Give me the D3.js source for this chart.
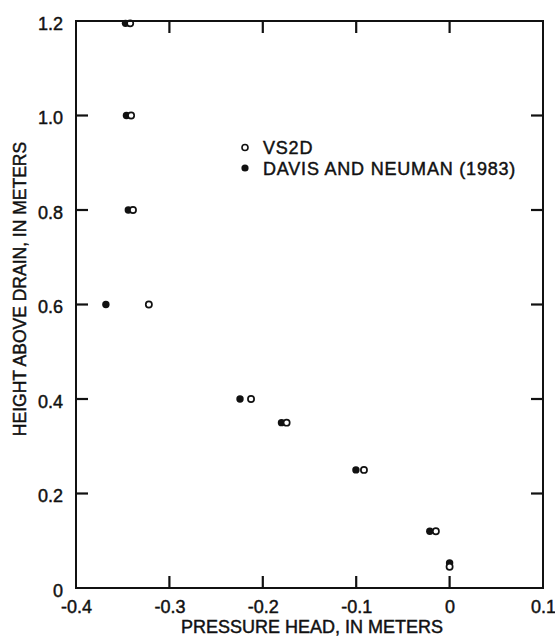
<!DOCTYPE html>
<html>
<head>
<meta charset="utf-8">
<script src="https://cdn.jsdelivr.net/npm/d3@7"></script>
<style>
  html, body { margin: 0; padding: 0; background: #fff; }
  svg text { font-family: "Liberation Sans", Arial, Helvetica, sans-serif; fill: #111; stroke: #111; stroke-width: 0.45px; }
</style>
</head>
<body>
<svg id="chart" width="555" height="639"></svg>
<script>
// Pressure head (m) simulated by VS2D, with the matching height above drain (m)
const vs2dHead = [-0.342, -0.341, -0.339, -0.322, -0.2126, -0.1745, -0.0917, -0.0147, 0.0];
const vs2dHeight = [1.195, 1.0, 0.8, 0.6, 0.4, 0.35, 0.25, 0.12, 0.045];
// Pressure head (m) from Davis and Neuman (1983), with the matching height above drain (m)
const davisHead = [-0.347, -0.346, -0.344, -0.368, -0.2244, -0.180, -0.1003, -0.0212, 0.0];
const davisHeight = [1.195, 1.0, 0.8, 0.6, 0.4, 0.35, 0.25, 0.12, 0.053];

const xTicks = [-0.4, -0.3, -0.2, -0.1, 0, 0.1];
const yTicks = [0, 0.2, 0.4, 0.6, 0.8, 1.0, 1.2];
const xTickLabels = ["-0.4", "-0.3", "-0.2", "-0.1", "0", "0.1"];
const yTickLabels = ["0", "0.2", "0.4", "0.6", "0.8", "1.0", "1.2"];

const legendLabels = ["VS2D", "DAVIS AND NEUMAN (1983)"];
const xTitle = "PRESSURE HEAD, IN METERS";
const yTitle = "HEIGHT ABOVE DRAIN, IN METERS";

const svg = d3.select("#chart");
const plotLeft = 76, plotRight = 543, plotTop = 21, plotBottom = 588;

const x = d3.scaleLinear().domain([-0.4, 0.1]).range([plotLeft, plotRight]);
const y = d3.scaleLinear().domain([0, 1.2]).range([plotBottom, plotTop]);

const fontSize = 18;
const tickLen = 12;

// Data points
svg.append("g").selectAll("circle")
  .data(davisHead.map((d, i) => [d, davisHeight[i]]))
  .join("circle")
  .attr("cx", d => x(d[0])).attr("cy", d => y(d[1]))
  .attr("r", 3.7).attr("fill", "#111");

svg.append("g").selectAll("circle")
  .data(vs2dHead.map((d, i) => [d, vs2dHeight[i]]))
  .join("circle")
  .attr("cx", d => x(d[0])).attr("cy", d => y(d[1]))
  .attr("r", 3.1).attr("fill", "#fff").attr("stroke", "#111").attr("stroke-width", 1.7);

// Tick labels through d3 axes
const bottomAxis = d3.axisBottom(x).tickValues(xTicks).tickSize(0)
  .tickFormat((d, i) => xTickLabels[i]).tickPadding(12);
const leftAxis = d3.axisLeft(y).tickValues(yTicks).tickSize(0)
  .tickFormat((d, i) => yTickLabels[i]).tickPadding(13);

function styleAxis(g) {
  g.select(".domain").remove();
  g.selectAll(".tick line").remove();
  g.selectAll(".tick text").attr("font-size", fontSize)
    .attr("font-family", "Liberation Sans, Arial, sans-serif");
}

svg.append("g").attr("transform", `translate(0,${plotBottom})`).call(bottomAxis).call(styleAxis);
svg.append("g").attr("transform", `translate(${plotLeft},0)`).call(leftAxis).call(styleAxis)
  .selectAll(".tick text").attr("dy", "0.47em");

// Frame (drawn over the points that sit on the top edge)
svg.append("rect").attr("x", plotLeft).attr("y", plotTop)
  .attr("width", plotRight - plotLeft).attr("height", plotBottom - plotTop)
  .attr("fill", "none").attr("stroke", "#111").attr("stroke-width", 2);

// Inward tick marks on all four sides
const innerX = xTicks.slice(1, -1);
const innerY = yTicks.slice(1, -1);
const tickG = svg.append("g").attr("stroke", "#111").attr("stroke-width", 2.2);
tickG.selectAll("line.xb").data(innerX).join("line").attr("class", "xb")
  .attr("x1", d => x(d)).attr("x2", d => x(d))
  .attr("y1", plotBottom).attr("y2", plotBottom - tickLen);
tickG.selectAll("line.xt").data(innerX).join("line").attr("class", "xt")
  .attr("x1", d => x(d)).attr("x2", d => x(d))
  .attr("y1", plotTop).attr("y2", plotTop + tickLen);
tickG.selectAll("line.yl").data(innerY).join("line").attr("class", "yl")
  .attr("x1", plotLeft).attr("x2", plotLeft + tickLen)
  .attr("y1", d => y(d)).attr("y2", d => y(d));
tickG.selectAll("line.yr").data(innerY).join("line").attr("class", "yr")
  .attr("x1", plotRight).attr("x2", plotRight - tickLen)
  .attr("y1", d => y(d)).attr("y2", d => y(d));

// Axis titles
svg.append("text").attr("x", 312).attr("y", 633)
  .attr("text-anchor", "middle").attr("font-size", fontSize).text(xTitle);
svg.append("text")
  .attr("transform", `translate(26,289) rotate(-90)`)
  .attr("text-anchor", "middle").attr("font-size", 17.5).text(yTitle);

// Legend
const legend = svg.append("g");
const legendY = [154, 175];
legend.append("circle").attr("cx", 245).attr("cy", 147.5).attr("r", 3.0)
  .attr("fill", "#fff").attr("stroke", "#111").attr("stroke-width", 1.6);
legend.append("circle").attr("cx", 245).attr("cy", 168).attr("r", 3.6).attr("fill", "#111");
legend.selectAll("text.lab").data(legendLabels).join("text").attr("class", "lab")
  .attr("x", 263).attr("y", (d, i) => legendY[i])
  .attr("font-size", fontSize).attr("letter-spacing", 0.8).text(d => d);
</script>
</body>
</html>
